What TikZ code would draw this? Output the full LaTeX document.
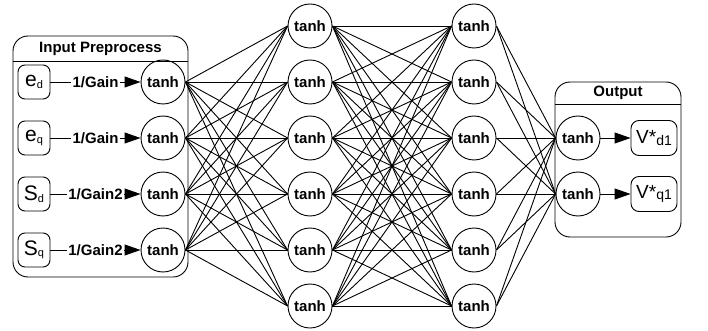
\documentclass[tikz,border=0pt]{standalone}
\usepackage{fontspec}
\setmainfont{Liberation Sans}
\usetikzlibrary{arrows.meta}
\newcommand{\sig}[2]{{\fontsize{21}{21}\selectfont #1}\raisebox{-1.5pt}{\fontsize{11}{11}\selectfont #2}}
\newcommand{\vout}[1]{{\fontsize{19}{19}\selectfont V*}\raisebox{-1.5pt}{\fontsize{14}{14}\selectfont #1}}
\tikzset{
  neuron/.style={circle,draw,minimum size=44pt,inner sep=0pt,font=\fontsize{15}{15}\selectfont\bfseries},
  sigbox/.style={draw,rounded corners=7pt,minimum width=32pt,minimum height=34pt,inner sep=0pt},
  outbox/.style={draw,rounded corners=8pt,minimum width=46pt,minimum height=35pt,inner sep=0pt},
  gainlab/.style={fill=white,inner sep=1.5pt,font=\fontsize{15}{15}\selectfont\bfseries},
  headlab/.style={font=\fontsize{15}{15}\selectfont\bfseries},
  feed/.style={-{Triangle[length=16pt,width=11pt]}},
}
\begin{document}
\begin{tikzpicture}[x=1pt,y=-1pt,line width=0.9pt]
\useasboundingbox (0,0) rectangle (708,331);
% group frames
\draw[rounded corners=15pt] (13,36) rectangle (188,277);
\draw (13,61) -- (188,61);
\node[headlab] (inhead) at (100.5,48.5) {Input Preprocess};
\draw[rounded corners=15pt] (555,82) rectangle (681,237);
\draw (555,104) -- (681,104);
\node[headlab] (outhead) at (618,93) {Output};
% hidden layers
\foreach \i in {1,...,6} {
  \node[neuron] (a\i) at (310,{26+56*(\i-1)}) {tanh};
  \node[neuron] (b\i) at (474,{26+56*(\i-1)}) {tanh};
}
% inputs
\foreach \i in {1,...,4}
  \node[neuron] (p\i) at (163,{82+56*(\i-1)}) {tanh};
\node[sigbox] (ed) at (34,82) {\sig{e}{d}};
\node[sigbox] (eq) at (34,138) {\sig{e}{q}};
\node[sigbox] (sd) at (34,194) {\sig{S}{d}};
\node[sigbox] (sq) at (34,250) {\sig{S}{q}};
\draw[feed] (ed) -- node[gainlab] {1/Gain} (p1);
\draw[feed] (eq) -- node[gainlab] {1/Gain} (p2);
\draw[feed] (sd) -- node[gainlab] {1/Gain2} (p3);
\draw[feed] (sq) -- node[gainlab] {1/Gain2} (p4);
% outputs
\node[neuron] (o1) at (578,138) {tanh};
\node[neuron] (o2) at (578,194) {tanh};
\node[outbox] (vd) at (654,138) {\vout{d1}};
\node[outbox] (vq) at (654,194) {\vout{q1}};
\draw[feed] (o1) -- (vd);
\draw[feed] (o2) -- (vq);
% weights
\foreach \i in {1,...,4} \foreach \j in {1,...,6} \draw (p\i.east) -- (a\j.west);
\foreach \i in {1,...,6} \foreach \j in {1,...,6} \draw (a\i.east) -- (b\j.west);
\foreach \i in {1,...,6} \foreach \j in {1,2} \draw (b\i.east) -- (o\j.west);
\end{tikzpicture}
\end{document}
